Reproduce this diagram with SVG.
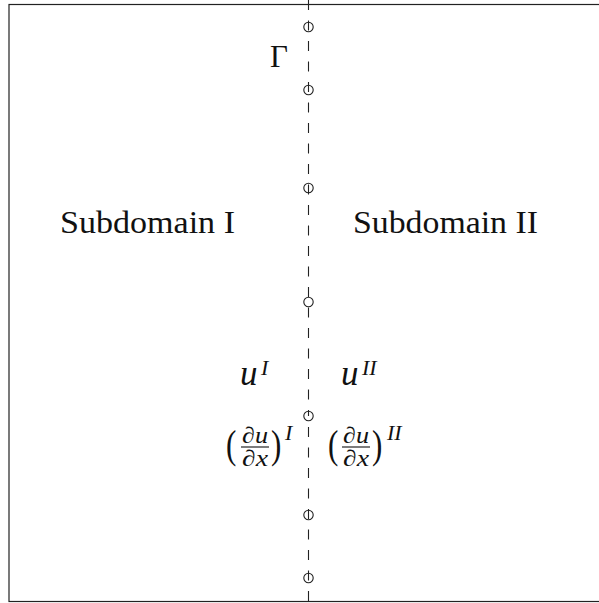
<svg xmlns="http://www.w3.org/2000/svg" width="599" height="603" viewBox="0 0 599 603">
<style>
.frame{fill:none;stroke:#222;stroke-width:1.2}
.dash{fill:none;stroke:#222;stroke-width:1.1;stroke-dasharray:10 10.5}
.pt{fill:none;stroke:#222;stroke-width:1.1}
.t{font-family:"Liberation Serif","Times New Roman",serif;fill:#111}
.lab{font-size:31px}
.mu{font-size:35px;font-style:italic}
.big{font-size:31px}
.sup{font-size:22px;font-style:italic}
.fr{font-size:23px;font-style:italic}
.bar{stroke:#111;stroke-width:1.1}
</style>
<rect class="frame" x="9" y="4.5" width="592" height="597"/>
<g id="connectors">
<line class="dash" x1="308.5" y1="0" x2="308.5" y2="416"/>
<line class="dash" x1="308.5" y1="427" x2="308.5" y2="601.5"/>
</g>
<g id="points">
<circle class="pt" cx="308.5" cy="27" r="4.7"/>
<circle class="pt" cx="308.5" cy="90" r="4.7"/>
<circle class="pt" cx="308.5" cy="188" r="4.7"/>
<circle class="pt" cx="308.5" cy="302" r="4.7"/>
<circle class="pt" cx="308.5" cy="416" r="4.7"/>
<circle class="pt" cx="308.5" cy="515" r="4.7"/>
<circle class="pt" cx="308.5" cy="578" r="4.7"/>
</g>
<g id="gamma"><text class="t lab" x="270" y="67">Γ</text></g>
<g id="sub1"><text class="t lab" x="60" y="233" textLength="175" lengthAdjust="spacingAndGlyphs">Subdomain I</text></g>
<g id="sub2"><text class="t lab" x="353" y="233" textLength="185" lengthAdjust="spacingAndGlyphs">Subdomain II</text></g>
<g id="uI">
<text class="t mu" x="240" y="385">u</text>
<text class="t sup" x="261" y="375">I</text>
</g>
<g id="uII">
<text class="t mu" x="341" y="385">u</text>
<text class="t sup" x="362" y="375">II</text>
</g>
<g id="dudxI">
<text class="t big" transform="translate(226,458) scale(1,1.3)">(</text>
<text class="t fr" x="242" y="443" textLength="26" lengthAdjust="spacingAndGlyphs">∂u</text>
<line class="bar" x1="241" y1="447" x2="269" y2="447"/>
<text class="t fr" x="242" y="466" textLength="26" lengthAdjust="spacingAndGlyphs">∂x</text>
<text class="t big" transform="translate(271,458) scale(1,1.3)">)</text>
<text class="t sup" x="285" y="440">I</text>
</g>
<g id="dudxII">
<text class="t big" transform="translate(328,458) scale(1,1.3)">(</text>
<text class="t fr" x="343" y="443" textLength="26" lengthAdjust="spacingAndGlyphs">∂u</text>
<line class="bar" x1="342" y1="447" x2="370" y2="447"/>
<text class="t fr" x="343" y="466" textLength="26" lengthAdjust="spacingAndGlyphs">∂x</text>
<text class="t big" transform="translate(372,458) scale(1,1.3)">)</text>
<text class="t sup" x="387" y="440">II</text>
</g>
</svg>
